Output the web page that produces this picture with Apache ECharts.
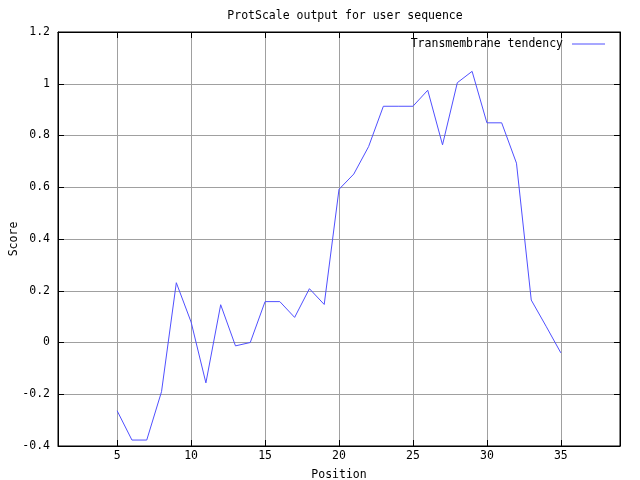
<!DOCTYPE html>
<html>
<head>
<meta charset="utf-8">
<script src="https://cdn.jsdelivr.net/npm/echarts@6/dist/echarts.min.js"></script>
<style>
    html, body { margin: 0; padding: 0; background: #fff; }
    #chart { width: 640px; height: 480px; }
</style>
</head>
<body>
<div id="chart"></div>
<script>
// data
var positions = [5, 6, 7, 8, 9, 10, 11, 12, 13, 14, 15, 16, 17, 18, 19, 20,
    21, 22, 23, 24, 25, 26, 27, 28, 29, 30, 31, 32, 33, 34, 35]
var scores = [-0.264, -0.377, -0.377, -0.19, 0.231, 0.079, -0.156, 0.146, -0.013, 0.0,
    0.158, 0.158, 0.097, 0.208, 0.147, 0.592, 0.651, 0.757, 0.913, 0.913,
    0.913, 0.975, 0.764, 1.004, 1.048, 0.849, 0.849, 0.693, 0.164, 0.063, -0.04]
var xTicks = [5, 10, 15, 20, 25, 30, 35]
var seriesName = 'Transmembrane tendency'

var font = 'DejaVu Sans Mono'
var chart = echarts.init(document.getElementById('chart'))

var lineData = positions.map(function (p, i) { return [p, scores[i]] })

var option = {
    animation: false,
    backgroundColor: '#fff',
    title: {
        text: 'ProtScale output for user sequence',
        left: 340,
        top: 5,
        textAlign: 'center',
        textStyle: { fontFamily: font, fontSize: 11.5, fontWeight: 'normal', color: '#000' }
    },
    legend: {
        right: 30,
        top: 33,
        align: 'right',
        icon: 'rect',
        itemWidth: 33,
        itemHeight: 1,
        itemGap: 0,
        textStyle: { fontFamily: font, fontSize: 11.5, color: '#000', padding: [0, 4, 0, 0] },
        data: [seriesName]
    },
    grid: {
        left: 58,
        right: 20,
        top: 32,
        bottom: 34,
        outerBoundsMode: 'none',
        containLabel: false,
        show: true,
        borderColor: '#000',
        borderWidth: 1
    },
    xAxis: [{
        type: 'value',
        min: 1,
        max: 39,
        name: 'Position',
        nameLocation: 'middle',
        nameGap: 23,
        nameMoveOverlap: false,
        nameTextStyle: { fontFamily: font, fontSize: 11.5, color: '#000' },
        axisLine: { show: true, onZero: false, lineStyle: { color: '#000' } },
        axisTick: { show: true, inside: true, length: 6, customValues: xTicks, lineStyle: { color: '#000' } },
        axisLabel: { customValues: xTicks, margin: 4, fontFamily: font, fontSize: 11.5, color: '#000' },
        splitLine: { show: true, lineStyle: { color: '#a0a0a0', width: 1 } }
    }, {
        type: 'value',
        position: 'top',
        min: 1,
        max: 39,
        axisLine: { show: true, onZero: false, lineStyle: { color: '#000' } },
        axisTick: { show: true, inside: true, length: 6, customValues: xTicks, lineStyle: { color: '#000' } },
        axisLabel: { show: false },
        splitLine: { show: false }
    }],
    yAxis: [{
        type: 'value',
        min: -0.4,
        max: 1.2,
        interval: 0.2,
        name: 'Score',
        nameLocation: 'middle',
        nameGap: 38,
        nameMoveOverlap: false,
        nameTextStyle: { fontFamily: font, fontSize: 11.5, color: '#000' },
        axisLine: { show: true, onZero: false, lineStyle: { color: '#000' } },
        axisTick: { show: true, inside: true, length: 6, lineStyle: { color: '#000' } },
        axisLabel: { margin: 8, fontFamily: font, fontSize: 11.5, color: '#000' },
        splitLine: { show: true, lineStyle: { color: '#a0a0a0', width: 1 } }
    }, {
        type: 'value',
        position: 'right',
        min: -0.4,
        max: 1.2,
        interval: 0.2,
        axisLine: { show: true, onZero: false, lineStyle: { color: '#000' } },
        axisTick: { show: true, inside: true, length: 6, lineStyle: { color: '#000' } },
        axisLabel: { show: false },
        splitLine: { show: false }
    }],
    series: [{
        name: seriesName,
        type: 'line',
        data: lineData,
        showSymbol: false,
        color: '#5050ff',
        lineStyle: { width: 1, color: '#5050ff' },
        z: 5
    }]
}
chart.setOption(option)
</script>
</body>
</html>
